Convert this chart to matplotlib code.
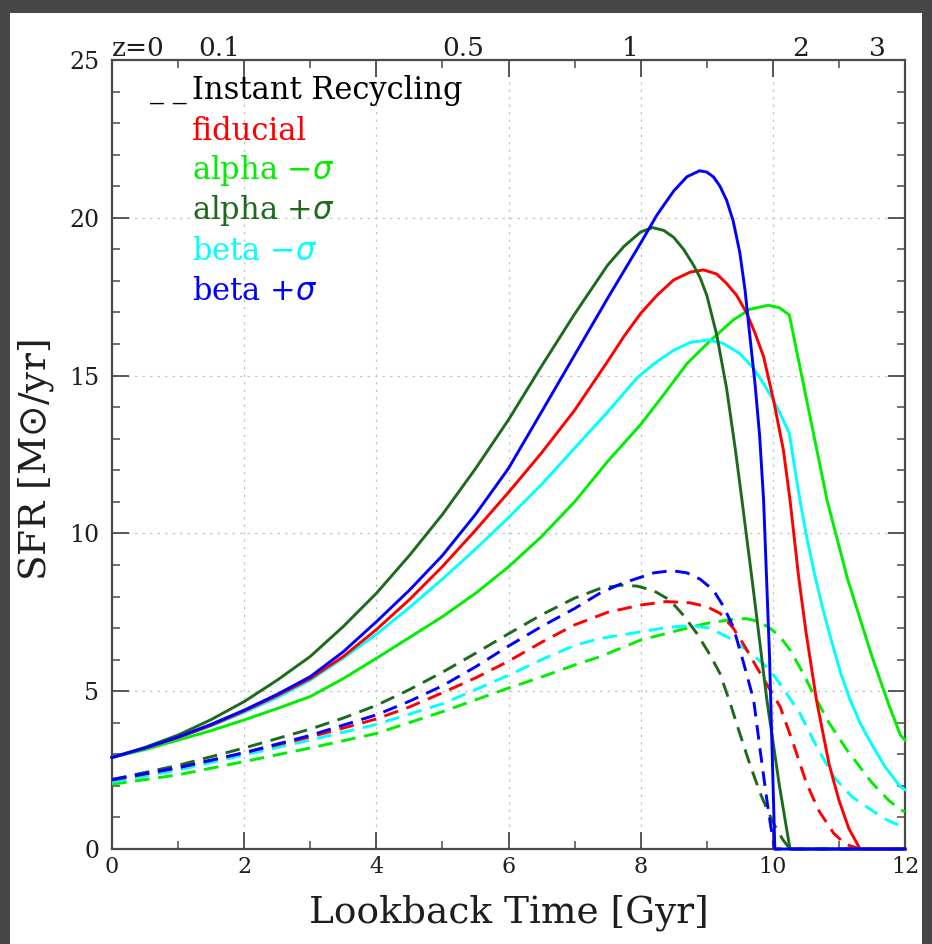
import matplotlib
matplotlib.use('Agg')
import matplotlib.pyplot as plt
from matplotlib.patches import Rectangle
from matplotlib.ticker import MultipleLocator

# ---------------- data ----------------
# Solid curves: full model (lookback time [Gyr], SFR [Msun/yr])
t_fid = [0, 0.5, 1, 1.5, 2, 2.5, 3, 3.5, 4, 4.5, 5, 5.5, 6, 6.5, 7, 7.5, 7.75, 8, 8.25,
         8.5, 8.75, 8.95, 9.15, 9.3, 9.45, 9.6, 9.73, 9.86, 10.01, 10.16, 10.26, 10.39,
         10.5, 10.66, 10.85, 11.0, 11.15, 11.32, 12]
sfr_fid = [2.9, 3.2, 3.53, 3.92, 4.37, 4.86, 5.4, 6.1, 6.95, 7.9, 8.95, 10.1, 11.3, 12.55,
           13.9, 15.45, 16.25, 16.97, 17.55, 18.03, 18.28, 18.35, 18.22, 17.92, 17.55,
           17.0, 16.35, 15.6, 14.23, 12.64, 11.06, 8.63, 6.9, 4.72, 2.7, 1.55, 0.65, 0, 0]

t_am = [0, 0.5, 1, 1.5, 2, 2.5, 3, 3.5, 4, 4.5, 5, 5.5, 6, 6.5, 7, 7.5, 8, 8.35, 8.7,
        9.05, 9.4, 9.65, 9.93, 10.1, 10.25, 10.5, 10.82, 11.13, 11.5, 11.75, 11.93, 12]
sfr_am = [2.9, 3.15, 3.45, 3.75, 4.09, 4.45, 4.83, 5.4, 6.04, 6.7, 7.36, 8.1, 8.94, 9.9,
          11.0, 12.28, 13.45, 14.4, 15.38, 16.1, 16.76, 17.1, 17.23, 17.15, 16.92, 14.35,
          11.06, 8.56, 6.1, 4.6, 3.61, 3.45]

t_ap = [0, 0.5, 1, 1.5, 2, 2.5, 3, 3.5, 4, 4.5, 5, 5.5, 6, 6.5, 7, 7.5, 7.75, 8.0, 8.18,
        8.35, 8.5, 8.65, 8.8, 8.9, 9.0, 9.15, 9.3, 9.43, 9.53, 9.7, 9.91, 10.1, 10.26, 12]
sfr_ap = [2.9, 3.22, 3.61, 4.1, 4.67, 5.35, 6.1, 7.05, 8.1, 9.3, 10.6, 12.05, 13.6, 15.3,
          16.95, 18.5, 19.1, 19.55, 19.69, 19.6, 19.38, 19.0, 18.5, 18.1, 17.55, 16.3,
          14.6, 12.7, 11.1, 8.3, 4.72, 2.0, 0, 0]

t_bm = [0, 0.5, 1, 1.5, 2, 2.5, 3, 3.5, 4, 4.5, 5, 5.5, 6, 6.5, 7, 7.5, 7.96, 8.25, 8.5,
        8.75, 9.02, 9.25, 9.5, 9.7, 9.86, 10.0, 10.11, 10.2, 10.25, 10.33, 10.41, 10.52,
        10.64, 10.77, 10.9, 11.03, 11.17, 11.33, 11.5, 11.7, 11.93, 12]
sfr_bm = [2.9, 3.2, 3.52, 3.9, 4.33, 4.8, 5.35, 6.05, 6.8, 7.65, 8.55, 9.5, 10.5, 11.55,
          12.7, 13.85, 14.96, 15.45, 15.8, 16.05, 16.13, 16.02, 15.7, 15.25, 14.75, 14.25,
          13.8, 13.4, 13.17, 12.1, 11.06, 9.8, 8.63, 7.5, 6.5, 5.55, 4.72, 3.95, 3.3,
          2.6, 1.97, 1.88]

t_bp = [0, 0.5, 1, 1.5, 2, 2.5, 3, 3.5, 4, 4.5, 5, 5.5, 6, 6.5, 7, 7.5, 8, 8.25, 8.5,
        8.7, 8.89, 9.0, 9.1, 9.2, 9.3, 9.4, 9.5, 9.58, 9.65, 9.73, 9.8, 9.86, 9.95,
        10.03, 12]
sfr_bp = [2.9, 3.2, 3.55, 3.95, 4.4, 4.9, 5.46, 6.25, 7.2, 8.2, 9.3, 10.6, 12.06, 13.85,
          15.65, 17.45, 19.2, 20.1, 20.85, 21.3, 21.49, 21.45, 21.3, 21.0, 20.56, 19.9,
          18.9, 17.7, 16.3, 14.75, 13.1, 11.06, 6.1, 0, 0]

# Dashed curves: instant recycling
t_fid_ir = [0, 1, 2, 3, 3.5, 4, 4.5, 5, 5.5, 6, 6.5, 7, 7.5, 8, 8.39, 8.75, 9.0, 9.2,
            9.4, 9.55, 9.8, 10.11, 10.3, 10.51, 10.7, 10.92, 11.1, 11.32, 12]
sfr_fid_ir = [2.18, 2.57, 3.05, 3.55, 3.83, 4.12, 4.5, 4.95, 5.42, 5.95, 6.55, 7.1, 7.5,
              7.73, 7.84, 7.8, 7.68, 7.47, 7.0, 6.51, 5.6, 4.51, 3.4, 2.08, 1.2, 0.5,
              0.15, 0, 0]

t_am_ir = [0, 1, 2, 3, 4, 5, 6, 6.5, 7, 7.38, 8, 8.39, 8.7, 9.0, 9.4, 9.6, 9.8, 9.96,
           10.1, 10.26, 10.45, 10.61, 10.85, 11.12, 11.5, 11.75, 11.93, 12]
sfr_am_ir = [2.05, 2.35, 2.77, 3.2, 3.66, 4.35, 5.1, 5.45, 5.83, 6.09, 6.62, 6.83, 7.0,
             7.15, 7.28, 7.3, 7.2, 6.99, 6.75, 6.31, 5.6, 4.93, 4.0, 3.14, 2.1, 1.55,
             1.24, 1.18]

t_ap_ir = [0, 1, 2, 3, 3.5, 4, 4.5, 5, 5.5, 6, 6.5, 7, 7.38, 7.7, 7.95, 8.2, 8.44, 8.65,
           8.85, 9.05, 9.2, 9.35, 9.5, 9.65, 9.81, 10.0, 10.15, 10.26, 12]
sfr_ap_ir = [2.2, 2.65, 3.2, 3.8, 4.15, 4.55, 5.05, 5.6, 6.2, 6.82, 7.42, 7.95, 8.25,
             8.36, 8.33, 8.18, 7.89, 7.4, 6.83, 6.15, 5.56, 4.65, 3.66, 2.7, 1.76, 0.85,
             0.3, 0, 0]

t_bm_ir = [0, 1, 2, 3, 4, 5, 6, 6.5, 7, 7.38, 8, 8.4, 8.75, 9.05, 9.4, 9.7, 9.96, 10.2,
           10.41, 10.65, 10.92, 11.2, 11.5, 11.7, 11.93, 12]
sfr_bm_ir = [2.12, 2.5, 2.98, 3.45, 3.95, 4.6, 5.5, 6.0, 6.45, 6.67, 6.88, 7.02, 7.08,
             7.0, 6.62, 6.15, 5.67, 4.95, 4.3, 3.3, 2.29, 1.65, 1.22, 0.95, 0.73, 0.7]

t_bp_ir = [0, 1, 2, 3, 4, 4.5, 5, 5.5, 6, 6.5, 7, 7.38, 7.7, 7.94, 8.2, 8.47, 8.7, 8.9,
           9.1, 9.25, 9.4, 9.55, 9.71, 9.81, 9.91, 9.97, 10.03, 12]
sfr_bp_ir = [2.2, 2.58, 3.05, 3.6, 4.25, 4.68, 5.17, 5.77, 6.43, 7.05, 7.62, 8.1, 8.4,
             8.57, 8.75, 8.82, 8.75, 8.55, 8.2, 7.7, 7.04, 5.95, 4.72, 3.1, 1.55, 0.7,
             0, 0]

legend_labels = ['fiducial', r'alpha $-\sigma$', r'alpha $+\sigma$', r'beta $-\sigma$',
                 r'beta $+\sigma$']
colors = ['#ff0000', '#00ee00', '#1c6a1c', '#00ffff', '#0000ff']

z_labels = ['z=0', '0.1', '0.5', '1', '2', '3']
z_lookback = [0.0, 1.3, 5.0, 7.72, 10.3, 11.45]

# ---------------- figure ----------------
W, H = 932, 944
fig = plt.figure(figsize=(W / 100, H / 100), dpi=100)
fig.patch.set_facecolor('#474747')
fig.patches.append(Rectangle((10 / W, 0), 912 / W, 931 / H, transform=fig.transFigure,
                             facecolor='white', edgecolor='none', zorder=-10))

ax = fig.add_axes([112 / W, 95 / H, 793 / W, 789 / H])
ax.set_xlim(0, 12)
ax.set_ylim(0, 25)

dash = (0, (5, 3))
lw = 2.1
dashed = [
    (t_am_ir, sfr_am_ir, colors[1]),
    (t_bm_ir, sfr_bm_ir, colors[3]),
    (t_fid_ir, sfr_fid_ir, colors[0]),
    (t_ap_ir, sfr_ap_ir, colors[2]),
    (t_bp_ir, sfr_bp_ir, colors[4]),
]
for t, s, c in dashed:
    ax.plot(t, s, color=c, lw=lw, linestyle=dash, clip_on=False, zorder=3)

solids = [
    (t_am, sfr_am, colors[1]),
    (t_bm, sfr_bm, colors[3]),
    (t_fid, sfr_fid, colors[0]),
    (t_ap, sfr_ap, colors[2]),
    (t_bp, sfr_bp, colors[4]),
]
for t, s, c in solids:
    ax.plot(t, s, color=c, lw=lw, clip_on=False, zorder=4, solid_joinstyle='round')

# axes styling
frame_col = '#4a4a4a'
text_col = '#1e1e1e'
for sp in ax.spines.values():
    sp.set_color(frame_col)
    sp.set_linewidth(1.6)
ax.xaxis.set_major_locator(MultipleLocator(2))
ax.xaxis.set_minor_locator(MultipleLocator(1))
ax.yaxis.set_major_locator(MultipleLocator(5))
ax.yaxis.set_minor_locator(MultipleLocator(1))
ax.tick_params(which='both', direction='in', top=True, right=True, color=frame_col)
ax.tick_params(which='major', length=12, width=1.3)
ax.tick_params(which='minor', length=6, width=1.1)
ax.tick_params(axis='x', which='major', pad=5, labelsize=16, labelcolor=text_col)
ax.tick_params(axis='y', which='major', pad=9, labelsize=17, labelcolor=text_col)
for lab in ax.get_xticklabels() + ax.get_yticklabels():
    lab.set_family('DejaVu Serif')
ax.grid(True, which='major', color='#c4c4c4', linestyle=(0, (2, 4)), linewidth=0.9)
ax.set_axisbelow(True)

ax.set_xlabel('Lookback Time [Gyr]', fontsize=27, family='DejaVu Serif',
              color=text_col, va='center')
ax.xaxis.set_label_coords(0.5, (849 - 913) / 789)
ax.set_ylabel(r'SFR [M$\odot$/yr]', fontsize=27, family='DejaVu Serif',
              color=text_col, va='center')
ax.yaxis.set_label_coords((36 - 112) / 793, (849 - 460) / 789)

# redshift labels along the top
for zl, tl in zip(z_labels, z_lookback):
    ax.text(tl, 25.14, zl, ha='left', va='baseline', fontsize=19, family='DejaVu Serif',
            color=text_col)

# legend text
row_h = 40 / 789
x0 = (192 - 112) / 793
y0 = 1 - (91 - 60) / 789
ax.text((150 - 112) / 793, y0, '_ _', transform=ax.transAxes, fontsize=20,
        family='DejaVu Serif', color='black', ha='left', va='center')
ax.text(x0, y0, 'Instant Recycling', transform=ax.transAxes, fontsize=22,
        family='DejaVu Serif', color='black', ha='left', va='center')
for i, (lab, c) in enumerate(zip(legend_labels, colors)):
    ax.text(x0, y0 - (i + 1) * row_h, lab, transform=ax.transAxes, fontsize=22,
            family='DejaVu Serif', color=c, ha='left', va='center')

fig.savefig('out.png', dpi=100, facecolor=fig.get_facecolor())
